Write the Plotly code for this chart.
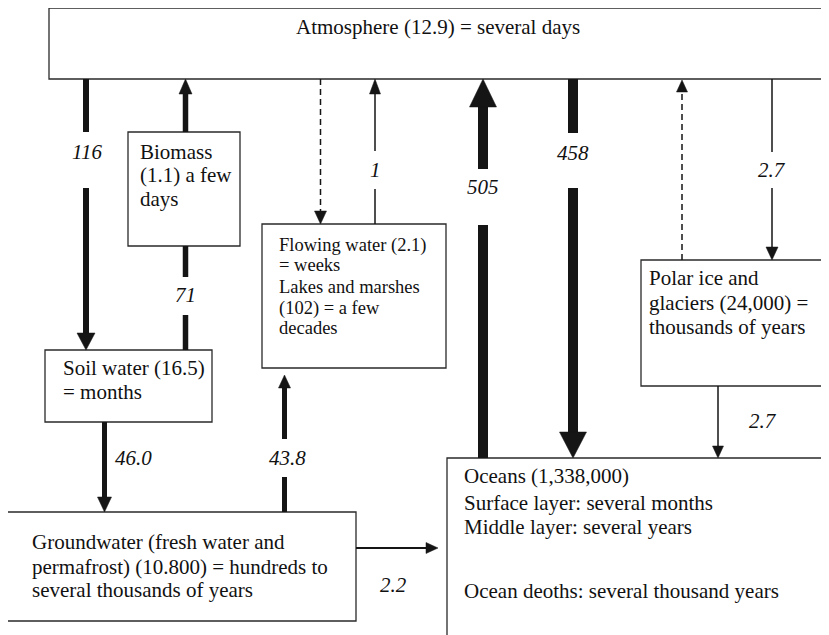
import plotly.graph_objects as go

# ---------------- data ----------------
reservoir_names = ["atmosphere", "biomass", "flowing", "soil", "ground", "polar", "oceans"]
reservoir_lines = [
    ["Atmosphere (12.9) = several days"],
    ["Biomass", "(1.1) a few", "days"],
    ["Flowing water (2.1)", "= weeks", "Lakes and marshes", "(102) = a few", "decades"],
    ["Soil water (16.5)", "= months"],
    ["Groundwater (fresh water and", "permafrost) (10.800) = hundreds to", "several thousands of years"],
    ["Polar ice and", "glaciers (24,000) =", "thousands of years"],
    ["Oceans (1,338,000)", "Surface layer: several months", "Middle layer: several years", "", "Ocean deoths: several thousand years"],
]
flow_ids = ["atm_soil", "bio_atm", "soil_bio", "atm_flow", "flow_atm", "ocean_atm", "atm_ocean",
            "polar_atm", "atm_polar", "polar_ocean", "soil_ground", "ground_flow", "ground_ocean"]
flow_labels = ["116", "", "71", "", "1", "505", "458", "", "2.7", "2.7", "46.0", "43.8", "2.2"]

# ---------------- layout geometry (pixel space of the page) ----------------
W, H = 829, 635
OFF = 8  # page body margin
FONT = "Liberation Serif, Times New Roman, serif"
INK = "#151515"

box_geom = {
    "atmosphere": dict(x0=49, x1=826, y0=8, y1=79, tx=438, ty=[27], size=21, center=True),
    "biomass": dict(x0=128, x1=240, y0=132, y1=246, tx=138, ty=[152, 175, 199], size=21),
    "flowing": dict(x0=262, x1=446, y0=224, y1=368, tx=277, ty=[245, 265, 287, 308, 328], size=18.5),
    "soil": dict(x0=45, x1=212, y0=350, y1=422, tx=61, ty=[368, 392], size=21),
    "ground": dict(x0=4, x1=356, y0=512, y1=621, tx=30, ty=[542, 567, 590], size=21),
    "polar": dict(x0=641, x1=826, y0=260, y1=386, tx=647, ty=[278, 303, 327], size=21),
    "oceans": dict(x0=447, x1=834, y0=458, y1=640, tx=462, ty=[476, 503, 527, 559, 591], size=21),
}

flow_geom = {
    "atm_soil": dict(segs=[(86, 79, 86, 132), (86, 188, 86, 334)], w=6, head=("v", 86, 350, 333, 9), lab=(87, 152)),
    "bio_atm": dict(segs=[(185.5, 132, 185.5, 92)], w=5.5, head=("v", 185.5, 79, 94, 6.5), lab=None),
    "soil_bio": dict(segs=[(185.5, 246, 185.5, 277), (185.5, 315, 185.5, 350)], w=5.5, head=None, lab=(185, 295)),
    "atm_flow": dict(segs=[(320.5, 79, 320.5, 213)], w=1.5, dash="6px,4px", head=("v", 320.5, 224, 211, 6), lab=None),
    "flow_atm": dict(segs=[(375, 224, 375, 189), (375, 151, 375, 92)], w=1.5, head=("v", 375, 79, 94, 5.5), lab=(375, 170)),
    "ocean_atm": dict(segs=[(483, 458, 483, 225), (483, 169, 483, 105)], w=10, head=("v", 483, 79, 107, 13.5), lab=(483, 187)),
    "atm_ocean": dict(segs=[(573, 79, 573, 133), (573, 188, 573, 434)], w=10, head=("v", 573, 458, 432, 13.5), lab=(573, 153)),
    "polar_atm": dict(segs=[(682, 260, 682, 91)], w=1.5, dash="6px,4px", head=("v", 682, 80, 92, 5.5), lab=None),
    "atm_polar": dict(segs=[(772, 79, 772, 152), (772, 188, 772, 248)], w=1.5, head=("v", 772, 260, 247, 6), lab=(772, 170)),
    "polar_ocean": dict(segs=[(718, 386, 718, 447)], w=1.5, head=("v", 718, 458, 446, 5.5), lab=(763, 421)),
    "soil_ground": dict(segs=[(104.5, 422, 104.5, 499)], w=5, head=("v", 104.5, 512, 497, 7), lab=(133, 458)),
    "ground_flow": dict(segs=[(284.5, 512, 284.5, 477), (284.5, 439, 284.5, 386)], w=5, head=("v", 284.5, 375, 388, 6), lab=(287, 458)),
    "ground_ocean": dict(segs=[(356, 548, 428, 548)], w=1.8, head=("h", 548, 438, 426, 5.5), lab=(393, 585)),
}

shapes = []
annotations = []

for name, lines in zip(reservoir_names, reservoir_lines):
    g = box_geom[name]
    shapes.append(dict(type="rect", xref="x", yref="y", x0=g["x0"], x1=g["x1"], y0=g["y0"], y1=g["y1"],
                       line=dict(color="#2a2a2a", width=1.3), fillcolor="rgba(0,0,0,0)", layer="below"))
    for txt, ty in zip(lines, g["ty"]):
        if not txt:
            continue
        annotations.append(dict(x=g["tx"], y=ty, xref="x", yref="y", text=txt, showarrow=False,
                                xanchor="center" if g.get("center") else "left", yanchor="middle",
                                font=dict(family=FONT, size=g["size"], color="#111")))

for fid, lab in zip(flow_ids, flow_labels):
    g = flow_geom[fid]
    for (xa, ya, xb, yb) in g["segs"]:
        line = dict(color=INK, width=g["w"])
        if g.get("dash"):
            line["dash"] = g["dash"]
        shapes.append(dict(type="line", xref="x", yref="y", x0=xa, y0=ya, x1=xb, y1=yb, line=line))
    hd = g["head"]
    if hd:
        if hd[0] == "v":
            _, cx, tip, base, hw = hd
            path = f"M {cx},{tip} L {cx-hw},{base} L {cx+hw},{base} Z"
        else:
            _, cy, tip, base, hw = hd
            path = f"M {tip},{cy} L {base},{cy-hw} L {base},{cy+hw} Z"
        shapes.append(dict(type="path", xref="x", yref="y", path=path, fillcolor=INK,
                           line=dict(color=INK, width=0.5)))
    if lab and g["lab"]:
        annotations.append(dict(x=g["lab"][0], y=g["lab"][1], xref="x", yref="y", text=f"<i>{lab}</i>",
                                showarrow=False, xanchor="center", yanchor="middle",
                                font=dict(family=FONT, size=21, color="#111")))

fig = go.Figure()
fig.add_trace(go.Scatter(x=[OFF, W], y=[OFF, H], mode="markers", marker=dict(opacity=0), hoverinfo="skip",
                         showlegend=False))
fig.update_layout(
    width=W - OFF, height=H - OFF, margin=dict(l=0, r=0, t=0, b=0),
    paper_bgcolor="white", plot_bgcolor="white",
    xaxis=dict(range=[OFF, W], visible=False, fixedrange=True),
    yaxis=dict(range=[H, OFF], visible=False, fixedrange=True),
    shapes=shapes, annotations=annotations, showlegend=False,
)
fig.write_html("out.html")
